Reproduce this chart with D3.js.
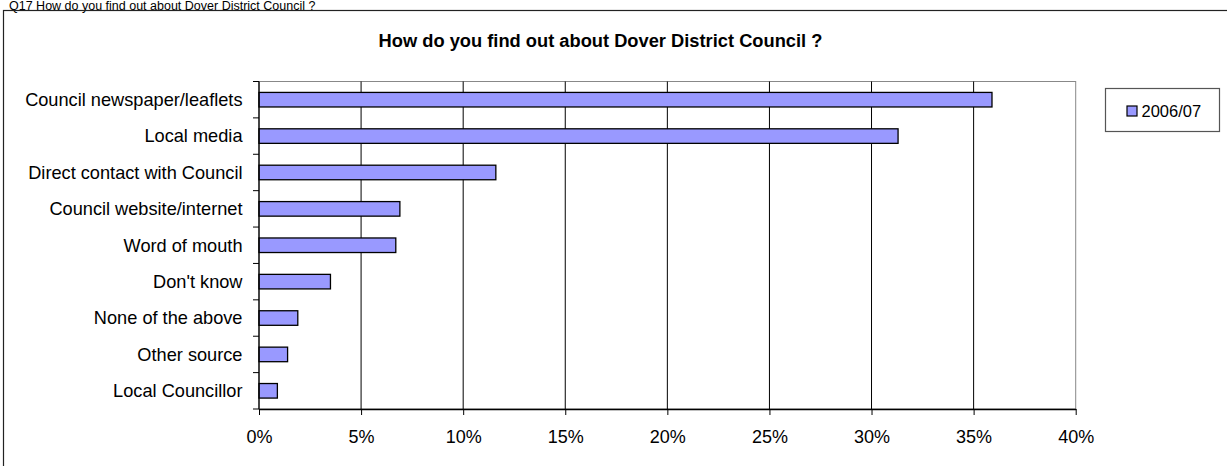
<!DOCTYPE html>
<html>
<head>
<meta charset="utf-8">
<script src="https://cdn.jsdelivr.net/npm/d3@7"></script>
<style>
  html, body { margin: 0; padding: 0; background: #fff; }
  svg { display: block; }
  text { font-family: "Liberation Sans", Arial, sans-serif; fill: #000; }
</style>
</head>
<body>
<svg id="chart" width="1227" height="466"></svg>
<script>
const categories = [
  "Council newspaper/leaflets",
  "Local media",
  "Direct contact with Council",
  "Council website/internet",
  "Word of mouth",
  "Don't know",
  "None of the above",
  "Other source",
  "Local Councillor"
];
const values2006 = [35.9, 31.3, 11.6, 6.9, 6.7, 3.5, 1.9, 1.4, 0.9];
const xTicks = [0, 5, 10, 15, 20, 25, 30, 35, 40];
const seriesName = "2006/07";
const chartTitle = "How do you find out about Dover District Council ?";
const pageHeading = "Q17 How do you find out about Dover District Council ?";

const svg = d3.select("#chart");

// page heading
svg.append("text")
  .attr("x", 9).attr("y", 9.5)
  .style("font-size", "12.5px")
  .text(pageHeading);

// outer chart border (extends beyond the window on right and bottom)
svg.append("rect")
  .attr("x", 3.5).attr("y", 10.5)
  .attr("width", 1300).attr("height", 500)
  .attr("fill", "none").attr("stroke", "#222").attr("stroke-width", 1.2);

const plot = { left: 259, right: 1075.7, top: 81.5, bottom: 409 };

const x = d3.scaleLinear().domain([0, 40]).range([plot.left, plot.right]);
const y = d3.scaleBand().domain(categories).range([plot.top, plot.bottom]).paddingInner(0.6).paddingOuter(0.3);
const yOuter = d3.scaleBand().domain(categories).range([plot.top, plot.bottom]);

// title
svg.append("text")
  .attr("x", 600.5).attr("y", 47)
  .attr("text-anchor", "middle")
  .style("font-size", "18.3px").style("font-weight", "bold")
  .text(chartTitle);

// plot area border
svg.append("rect")
  .attr("x", plot.left).attr("y", plot.top)
  .attr("width", plot.right - plot.left).attr("height", plot.bottom - plot.top)
  .attr("fill", "#fff").attr("stroke", "#888").attr("stroke-width", 1);

// gridlines
svg.append("g").selectAll("line")
  .data(xTicks.filter(d => d > 0 && d < 40))
  .join("line")
  .attr("x1", d => x(d)).attr("x2", d => x(d))
  .attr("y1", plot.top).attr("y2", plot.bottom)
  .attr("stroke", "#000").attr("stroke-width", 1);

// bars
svg.append("g").selectAll("rect")
  .data(categories)
  .join("rect")
  .attr("x", x(0))
  .attr("y", d => y(d))
  .attr("width", (d, i) => x(values2006[i]) - x(0))
  .attr("height", y.bandwidth())
  .attr("fill", "#9999FF")
  .attr("stroke", "#000").attr("stroke-width", 1.3);

// x axis
const xAxis = d3.axisBottom(x)
  .tickValues(xTicks)
  .tickFormat(d => d + "%")
  .tickSizeInner(6).tickSizeOuter(0).tickPadding(15);
const gx = svg.append("g")
  .attr("transform", `translate(0,${plot.bottom})`)
  .call(xAxis);
gx.select(".domain").attr("stroke", "#000").attr("stroke-width", 1.3);
gx.selectAll(".tick line").attr("stroke", "#000");
gx.selectAll(".tick text")
  .style("font-size", "18px")
  .style("font-family", "'Liberation Sans', Arial, sans-serif")
  .attr("fill", "#000");

// y axis line + ticks at category boundaries
svg.append("line")
  .attr("x1", plot.left).attr("x2", plot.left)
  .attr("y1", plot.top).attr("y2", plot.bottom)
  .attr("stroke", "#000").attr("stroke-width", 1.3);
const boundaries = categories.map(c => yOuter(c)).concat([plot.bottom]);
svg.append("g").selectAll("line")
  .data(boundaries)
  .join("line")
  .attr("x1", plot.left - 6).attr("x2", plot.left)
  .attr("y1", d => d).attr("y2", d => d)
  .attr("stroke", "#000").attr("stroke-width", 1);

// category labels
svg.append("g").selectAll("text")
  .data(categories)
  .join("text")
  .attr("x", 242.5)
  .attr("y", d => yOuter(d) + yOuter.bandwidth() / 2)
  .attr("dy", "0.35em")
  .attr("text-anchor", "end")
  .style("font-size", "18.2px")
  .text(d => d);

// legend
const lg = svg.append("g");
lg.append("rect")
  .attr("x", 1105.5).attr("y", 88.5).attr("width", 114).attr("height", 43)
  .attr("fill", "#fff").attr("stroke", "#555").attr("stroke-width", 1.2);
lg.append("rect")
  .attr("x", 1127).attr("y", 106).attr("width", 10).attr("height", 10)
  .attr("fill", "#9999FF").attr("stroke", "#000").attr("stroke-width", 1.2);
lg.append("text")
  .attr("x", 1141.5).attr("y", 116.5)
  .style("font-size", "16.5px")
  .text(seriesName);
</script>
</body>
</html>
